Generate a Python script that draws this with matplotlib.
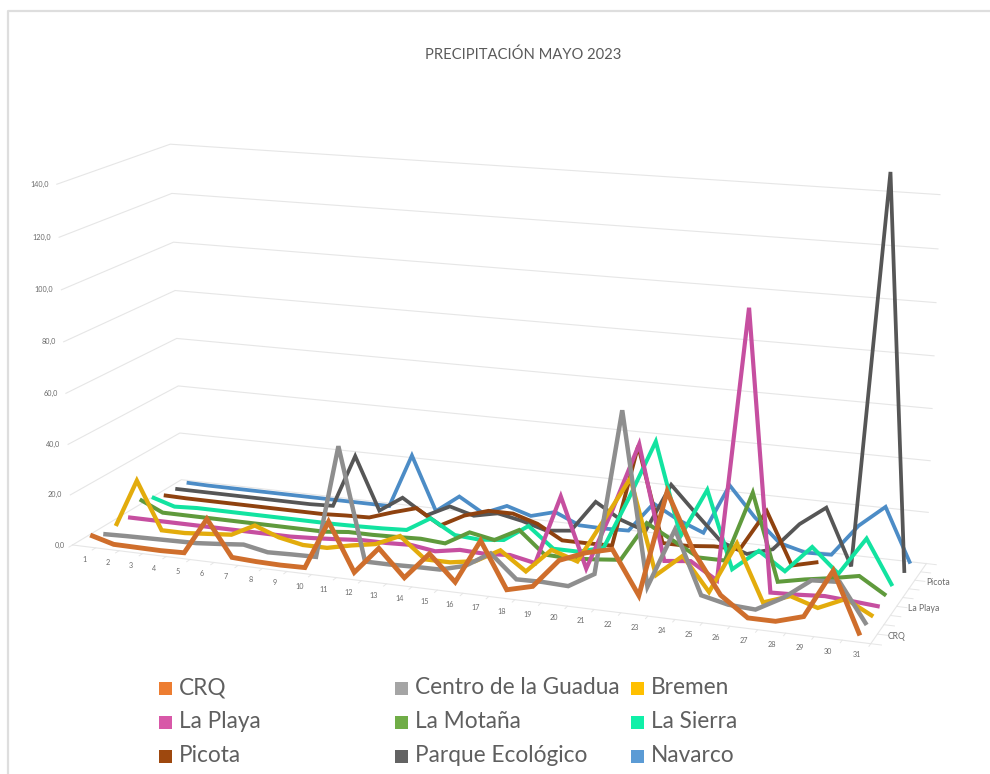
import numpy as np
import matplotlib
matplotlib.use('Agg')
import matplotlib.pyplot as plt
from matplotlib.patches import Rectangle

# precipitation (mm) per day of May 2023
nan = float('nan')
days = list(range(1, 32))
stations = ['CRQ', 'Centro de la Guadua', 'Bremen', 'La Playa', 'La Motaña', 'La Sierra', 'Picota', 'Parque Ecológico', 'Navarco']
crq = [3, .4, .3, .2, .5, 15, 1, .5, .3, .5, 19.5, 1, 11.5, 1.3, 11.7, 2, 19, 1.5, 4, 15, 19, 21.5, 5.4, 45, 24, 9.2, 2, 2, 5, 23, .6]
centro = [.3, .6, .8, 1, 1.2, 2, 2.9, 1, 1.3, 1.5, 45.7, 2, 2, 2.3, 2.4, 5, 11, 2.2, 2.4, 2, 7.8, 70, 5.4, 28, 4.6, 2.3, 1.7, 7.3, 15, 15.6, 1]
bremen = [.5, 20, 1, 1, 1.8, 2.6, 7.4, 3.8, 1.9, 1.9, 4, 5.7, 10, 2, 2, 3.6, 9, 2, 11.5, 8.2, 25, 42, 6.5, 15, 2.5, 22, 1, 4.6, 1.4, 6, .7]
playa = [1, 1, 1, 1, 1, 1, 1, 1, 1.5, 2.2, 3, 3, 3.4, 2, 3.7, 3.3, 4, 2, 29, 2.2, 26, 52, 8.7, 9.8, 3.6, 106, 1.4, 1.8, 2.5, 1.8, 1]
motana = [5.4, 1, 1, 1, 1, 1, 1, 1, 1, 2, 2, 2.3, 2.7, 2, 7.5, 5.6, 10.7, 2.2, 1.8, 2.6, 3.6, 19, 13.5, 8, 8, 35, 2.2, 4.3, 6, 8, 1.8]
sierra = [3.4, .5, 1, 1, 1, 1, 1, 1, 1, 1.2, 1.5, 2, 7.8, 2.2, 1.5, 2.5, 9.2, 1.3, 1.3, 4, 25, 47.5, 12, 31, 1.4, 9.7, 3, 13.5, 4.4, 19, 2.1]
picota = [1.2, 1, 1, 1, 1, 1, 1, 1, 1.5, 1.8, 5, 7.8, 1.9, 7, 10, 10, 7, 1.5, 1.5, 1.7, 42, 5, 5, 6, 6, 22, 2, 4.5, nan, nan, nan]
parque = [1, 1, 1, 1, 1, 1, 1, 1.4, 23, 1.6, 8, 1.8, 6.6, 3.9, 6, 4, 1.2, 2.3, 15, 9, 5.5, 25, 14.6, 4.6, 1, 4, 15, 22.5, .8, 150, .6]
navarco = [.7, .5, .5, .5, .5, .5, .5, .5, .5, .5, 22.5, .6, 7.7, 1.9, 6, 3, 5.7, 1.4, 1.2, 1.5, 13.5, 8, 4, 24, 12.5, 3.3, .7, 1, 13.5, 22, 1]
series = [crq, centro, bremen, playa, motana, sierra, picota, parque, navarco]
y_ticks = [0, 20, 40, 60, 80, 100, 120, 140]
y_max = 140

line_colors = ['#CF6E2C', '#8E8E8E', '#E3AC0C', '#C64FA0', '#5F9A3C', '#12E3A0', '#8F420F', '#565656', '#4C8CC6']
legend_colors = ['#ED7D31', '#A5A5A5', '#FFC000', '#D858A8', '#70AD47', '#10F0A8', '#9E480E', '#636363', '#5B9BD5']
line_widths = [3.5, 3.2, 3.1, 3.0, 2.9, 2.9, 2.8, 2.7, 2.7]


# camera for the 3d box: corners of the box (day, depth, height all 0-1) against where they sit in the image
box = [(0, 0, 0), (0, 1, 0), (1, 1, 0), (1, 0, 0), (0, 0, 1), (0, 1, 1), (1, 1, 1)]
img = [(73, 545), (181, 480), (927, 562), (870, 645), (57, 183), (170, 145), (940, 195)]
rows = []
for (a, b, c), (px, py) in zip(box, img):
    rows.append([a, b, c, 1, 0, 0, 0, 0, -px*a, -px*b, -px*c, -px])
    rows.append([0, 0, 0, 0, a, b, c, 1, -py*a, -py*b, -py*c, -py])
cam = np.linalg.svd(np.array(rows, dtype=float))[2][-1].reshape(3, 4)


def project(u, v, w):
    u, v, w = np.broadcast_arrays(np.asarray(u, float), np.asarray(v, float), np.asarray(w, float))
    p = cam @ np.vstack([u.ravel(), v.ravel(), w.ravel(), np.ones(u.size)])
    return p[0]/p[2], p[1]/p[2]


plt.rcParams['font.family'] = ['Lato', 'DejaVu Sans']
fig = plt.figure(figsize=(9.9, 7.74), dpi=100)
ax = fig.add_axes([0, 0, 1, 1])
ax.set_xlim(0, 990)
ax.set_ylim(774, 0)
ax.axis('off')

# chart frame
ax.plot([8, 8, 990], [774, 11, 11], color='#DEDEDE', lw=1.6)

grid_color = '#E6E6E6'
for t in y_ticks:
    x, y = project([0, 0, 1], [0, 1, 1], t/y_max)
    ax.plot(x, y, color=grid_color, lw=0.8)
    x, y = project(0, 0, t/y_max)
    ax.text(x[0]-8, y[0], ('%.1f' % t).replace('.', ','), ha='right', va='center', fontsize=5.2, color='#6A6A6A')

# floor edges, ticks and category labels
x, y = project([0, 1, 1], [0, 0, 1], 0)
ax.plot(x, y, color=grid_color, lw=0.8)
n = len(days)
for i in range(n+1):
    x, y = project(i/n, [0, -0.03], 0)
    ax.plot(x, y, color=grid_color, lw=0.7)
for i, d in enumerate(days):
    x, y = project((i+.5)/n, 0, 0)
    ax.text(x[0], y[0]+13, str(d), ha='center', va='center', fontsize=5.2, color='#6A6A6A')
for s in range(len(stations)+1):
    x, y = project([1, 1.012], s/len(stations), 0)
    ax.plot(x, y, color=grid_color, lw=0.7)
for s in [0, 3, 6]:
    x, y = project(1, (s+.5)/len(stations), 0)
    ax.text(x[0]+14, y[0]-2, stations[s], ha='left', va='center', fontsize=6.2, color='#6A6A6A')

# back row first so the front lines stay on top
for s in range(len(stations)-1, -1, -1):
    u = (np.array(days)-.5)/n
    x, y = project(u, (s+.5)/len(stations), np.array(series[s])/y_max)
    ax.plot(x, y, color=line_colors[s], lw=line_widths[s], solid_joinstyle='miter', solid_capstyle='butt')

ax.text(523, 55, 'PRECIPITACIÓN MAYO 2023', ha='center', va='center', fontsize=10.6, color='#5A5A5A')

# legend
col_x = [159, 395, 631]
row_y = [688, 722, 756]
for s, name in enumerate(stations):
    cx = col_x[s % 3]
    cy = row_y[s // 3]
    ax.add_patch(Rectangle((cx, cy-6), 13, 13, facecolor=legend_colors[s], edgecolor='none'))
    ax.text(cx+20, cy, name, ha='left', va='center', fontsize=16.3, color='#5F5F5F')

fig.savefig('out.png', dpi=100)
